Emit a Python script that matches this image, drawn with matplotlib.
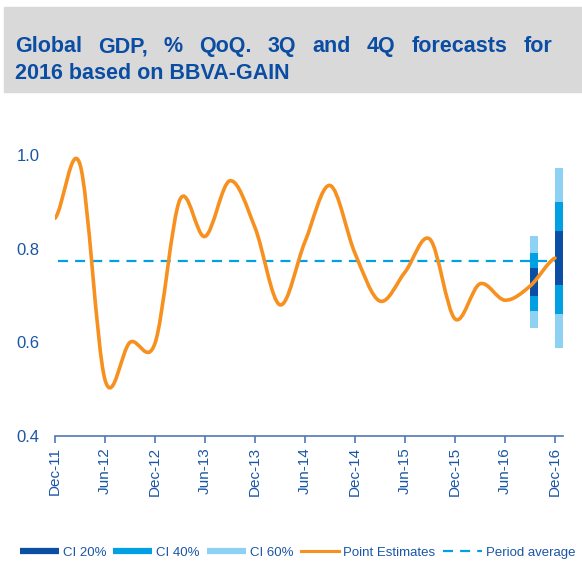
import matplotlib
matplotlib.use("Agg")
import matplotlib.pyplot as plt
from matplotlib.path import Path
from matplotlib.patches import PathPatch, Rectangle
from matplotlib.lines import Line2D

plt.rcParams['font.family'] = ['Liberation Sans', 'DejaVu Sans']

# quarterly data, Dec-11 .. Dec-16
quarters = ['Dec-11', 'Mar-12', 'Jun-12', 'Sep-12', 'Dec-12', 'Mar-13', 'Jun-13',
            'Sep-13', 'Dec-13', 'Mar-14', 'Jun-14', 'Sep-14', 'Dec-14', 'Mar-15',
            'Jun-15', 'Sep-15', 'Dec-15', 'Mar-16', 'Jun-16', 'Sep-16', 'Dec-16']
gdp = [0.865, 0.98, 0.52, 0.60, 0.598, 0.905, 0.826, 0.945, 0.845, 0.68, 0.815,
       0.935, 0.79, 0.688, 0.75, 0.82, 0.65, 0.725, 0.69, 0.72, 0.78]
period_avg = 0.773

# forecast fan (Sep-16, Dec-16): lower/upper bounds
fan_quarters = ['Sep-16', 'Dec-16']
ci20_lo = [0.699, 0.722]
ci20_hi = [0.759, 0.838]
ci40_lo = [0.667, 0.661]
ci40_hi = [0.790, 0.900]
ci60_lo = [0.630, 0.588]
ci60_hi = [0.828, 0.972]

C_DARK = '#0A4FA3'
C_MID = '#00A0E3'
C_LIGHT = '#8DD2F3'
C_ORANGE = '#F7901E'
C_TEXT = '#1A56A6'
C_TITLE = '#0A4DA2'

fig = plt.figure(figsize=(5.82, 5.66), dpi=100)
ax = fig.add_axes([55 / 582, 130 / 566, 508 / 582, 281 / 566])

x = list(range(len(quarters)))

# fan bars (left edge at the quarter)
fx = [quarters.index(q) for q in fan_quarters]
ax.bar(fx, [h - l for l, h in zip(ci60_lo, ci60_hi)], bottom=ci60_lo, width=0.32,
       align='edge', color=C_LIGHT, zorder=2)
ax.bar(fx, [h - l for l, h in zip(ci40_lo, ci40_hi)], bottom=ci40_lo, width=0.32,
       align='edge', color=C_MID, zorder=2)
ax.bar(fx, [h - l for l, h in zip(ci20_lo, ci20_hi)], bottom=ci20_lo, width=0.32,
       align='edge', color=C_DARK, zorder=2)

# period average
ax.hlines(period_avg, x[0] + 0.1, x[-1], colors=C_MID, linestyles=(0, (4.5, 3.2)),
          lw=1.6, zorder=3)

# smoothed line (Excel-style bezier through the points)
verts = [(x[0], gdp[0])]
codes = [Path.MOVETO]
n = len(x)
for i in range(n - 1):
    p0 = gdp[max(i - 1, 0)]
    p1 = gdp[i]
    p2 = gdp[i + 1]
    p3 = gdp[min(i + 2, n - 1)]
    verts += [(x[i] + 1 / 3, p1 + (p2 - p0) / 6),
              (x[i + 1] - 1 / 3, p2 - (p3 - p1) / 6),
              (x[i + 1], p2)]
    codes += [Path.CURVE4] * 3
ax.add_patch(PathPatch(Path(verts, codes), fill=False, edgecolor=C_ORANGE, lw=2.6,
                       capstyle='round', joinstyle='round', zorder=4))

ax.set_xlim(0, 20.32)
ax.set_ylim(0.4, 1.0)
ax.set_yticks([0.4, 0.6, 0.8, 1.0])
ax.set_yticklabels(['0.4', '0.6', '0.8', '1.0'])
ax.set_xticks(x[::2])
ax.set_xticklabels(quarters[::2], rotation=90)
for s in ['top', 'left', 'right']:
    ax.spines[s].set_visible(False)
ax.spines['bottom'].set_color('#4F78B8')
ax.spines['bottom'].set_linewidth(1.2)
ax.tick_params(axis='y', length=0, pad=11, labelsize=12, labelcolor=C_TEXT)
ax.tick_params(axis='x', length=5, width=1.2, color='#4F78B8', pad=3,
               labelsize=11, labelcolor=C_TEXT)

# title box
fig.patches.append(Rectangle((4 / 582, 1 - 92 / 566), 1, 85 / 566,
                             transform=fig.transFigure, color='#D9D9D9', zorder=0))
line1 = 'Global GDP, % QoQ. 3Q and 4Q forecasts for'.split()
y1 = 1 - 52 / 566
y2 = 1 - 79 / 566
fig.canvas.draw()
r = fig.canvas.get_renderer()
words = [fig.text(0, y1, w, fontsize=15.5, fontweight='bold', color=C_TITLE, va='baseline')
         for w in line1]
widths = [t.get_window_extent(r).width for t in words]
left, right = 15, 552
gap = (right - left - sum(widths)) / (len(words) - 1)
pos = left
for t, w in zip(words, widths):
    t.set_x(pos / 582)
    pos += w + gap
fig.text(15 / 582, y2, '2016 based on BBVA-GAIN', fontsize=15.5, fontweight='bold',
         color=C_TITLE, va='baseline')

handles = [
    Line2D([], [], color=C_DARK, lw=4.5, solid_capstyle='butt'),
    Line2D([], [], color=C_MID, lw=4.5, solid_capstyle='butt'),
    Line2D([], [], color=C_LIGHT, lw=4.5, solid_capstyle='butt'),
    Line2D([], [], color=C_ORANGE, lw=2.2),
    Line2D([], [], color=C_MID, lw=1.6, ls=(0, (4.5, 3.2))),
]
labels = ['CI 20%', 'CI 40%', 'CI 60%', 'Point Estimates', 'Period average']
leg = fig.legend(handles, labels, loc='center', bbox_to_anchor=(0.511, 0.023), ncol=5,
                 frameon=False, fontsize=9.5, handlelength=2.95, handletextpad=0.3,
                 columnspacing=0.55, borderaxespad=0)
for t in leg.get_texts():
    t.set_color(C_TEXT)

fig.savefig('out.png', dpi=100)
